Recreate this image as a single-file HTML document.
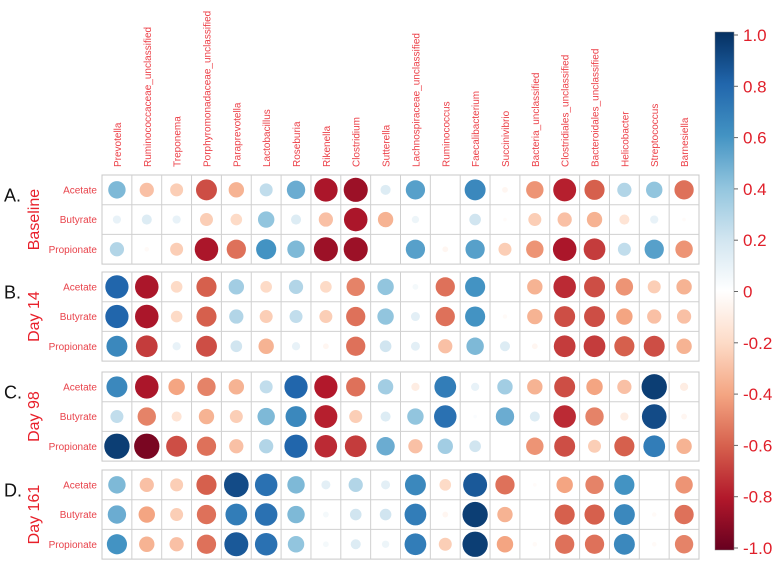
<!DOCTYPE html>
<html><head><meta charset="utf-8"><style>
body{margin:0;background:#fff;width:777px;height:564px;overflow:hidden;font-family:"Liberation Sans",sans-serif}
</style></head><body>
<svg id="chart" width="777" height="564" xmlns="http://www.w3.org/2000/svg">
<defs><linearGradient id="cb" x1="0" y1="0" x2="0" y2="1">
<stop offset="0" stop-color="#053061"/><stop offset="0.1" stop-color="#2166AC"/><stop offset="0.2" stop-color="#4393C3"/><stop offset="0.3" stop-color="#92C5DE"/><stop offset="0.4" stop-color="#D1E5F0"/><stop offset="0.5" stop-color="#FFFFFF"/><stop offset="0.6" stop-color="#FDDBC7"/><stop offset="0.7" stop-color="#F4A582"/><stop offset="0.8" stop-color="#D6604D"/><stop offset="0.9" stop-color="#B2182B"/><stop offset="1" stop-color="#67001F"/>
</linearGradient></defs>
</svg>
<script>
const genera=["Prevotella","Ruminococcaceae_unclassified","Treponema","Porphyromonadaceae_unclassified","Paraprevotella","Lactobacillus","Roseburia","Rikenella","Clostridium","Sutterella","Lachnospiraceae_unclassified","Ruminococcus","Faecalibacterium","Succinivibrio","Bacteria_unclassified","Clostridiales_unclassified","Bacteroidales_unclassified","Helicobacter","Streptococcus","Barnesiella"];
const acids=["Acetate","Butyrate","Propionate"];
const panelLetters=["A.","B.","C.","D."];
const panelTitles=["Baseline","Day 14","Day 98","Day 161"];
const baselineValues=[
[.45,-.3,-.25,-.65,-.35,.25,.5,-.82,-.86,.15,.55,0,.65,-.05,-.45,-.78,-.6,.3,.4,-.55],
[.1,.15,.1,-.25,-.2,.4,.15,-.3,-.82,-.35,.08,0,.2,-.02,-.25,-.3,-.35,-.15,.1,-.02],
[.3,-.03,-.25,-.82,-.55,.6,.45,-.86,-.86,0,.55,-.05,.55,-.25,-.45,-.82,-.7,.25,.55,-.45]];
const day14Values=[
[.8,-.82,-.2,-.6,.35,-.2,.3,-.2,-.5,.4,.05,-.55,.6,0,-.35,-.75,-.65,-.45,-.25,-.35],
[.8,-.82,-.2,-.6,.3,-.25,.25,-.25,-.55,.4,.12,-.55,.6,-.03,-.35,-.65,-.65,-.4,-.3,-.3],
[.65,-.7,.1,-.65,.2,-.35,.1,-.05,-.55,.2,.12,-.3,.45,.15,-.05,-.7,-.7,-.6,-.65,-.35]];
const day98Values=[
[.65,-.82,-.4,-.5,-.35,.25,.8,-.8,-.55,.35,-.1,.7,.1,.35,-.35,-.65,-.4,-.3,.95,-.1],
[.25,-.5,-.15,-.35,-.25,.45,.65,-.78,-.25,.15,.4,.75,.02,.5,.15,-.75,-.5,-.1,.9,-.05],
[.95,-.95,-.65,-.55,-.3,.3,.8,-.75,-.7,.5,-.3,.35,.2,0,-.45,-.65,-.25,-.6,.7,-.35]];
const day161Values=[
[.45,-.3,-.25,-.6,.9,.75,.45,.12,.3,.12,.65,-.2,.85,-.55,-.02,-.4,-.5,.6,0,-.45],
[.5,-.4,-.25,-.55,.7,.75,.45,.05,.2,.2,.7,-.05,.95,-.35,0,-.6,-.6,.65,-.03,-.55],
[.6,-.35,-.3,-.55,.85,.75,.4,.05,.15,.08,.7,-.25,.95,-.4,-.03,-.55,-.55,.65,-.03,-.5]];
const colorbarTicks=[1.0,0.8,0.6,0.4,0.2,0,-0.2,-0.4,-0.6,-0.8,-1.0];
const panels=[baselineValues,day14Values,day98Values,day161Values];

const NS="http://www.w3.org/2000/svg";
const svg=document.getElementById('chart');
function mk(t,a,p){const e=document.createElementNS(NS,t);for(const k in a)e.setAttribute(k,a[k]);(p||svg).appendChild(e);return e;}
const X0=102,CW=29.85,RH=29.7;
const panelTops=[175,272,372,470];
const xScale=i=>X0+CW*i;
const rScale=v=>13*Math.sqrt(Math.abs(v));
const pal=["#67001F","#B2182B","#D6604D","#F4A582","#FDDBC7","#FFFFFF","#D1E5F0","#92C5DE","#4393C3","#2166AC","#053061"];
function hex(h){return [1,3,5].map(i=>parseInt(h.substr(i,2),16));}
function color(v){const t=(v+1)/2*10;const i=Math.min(9,Math.floor(t));const f=t-i;const a=hex(pal[i]),b=hex(pal[i+1]);return 'rgb('+a.map((c,k)=>Math.round(c+(b[k]-c)*f)).join(',')+')';}

genera.forEach((g,i)=>{
  const x=xScale(i)+CW/2+4;
  const t=mk('text',{x:x,y:167,transform:`rotate(-90 ${x} 167)`,'font-size':'10','fill':'#ec4048'});
  t.textContent=g;
  
  
});

panels.forEach((rows,p)=>{
  const top=panelTops[p];
  const g=mk('g',{});
  
  
  mk('rect',{x:X0,y:top,width:CW*20,height:RH*3,fill:'#fff',stroke:'#c8c8c8','stroke-width':1},g);
  for(let i=1;i<20;i++) mk('line',{x1:xScale(i),x2:xScale(i),y1:top,y2:top+RH*3,stroke:'#d0d0d0','stroke-width':1},g);
  for(let j=1;j<3;j++) mk('line',{x1:X0,x2:X0+CW*20,y1:top+RH*j,y2:top+RH*j,stroke:'#d0d0d0','stroke-width':1},g);
  const L=mk('text',{x:4,y:top+RH*0.9,'font-size':'18','fill':'#111'});
  L.textContent=panelLetters[p];
  
  
  const cy=top+RH*1.5, tx=39;
  const T=mk('text',{x:tx,y:cy,transform:`rotate(-90 ${tx} ${cy})`,'text-anchor':'middle','font-size':'16','fill':'#e8202a'});
  T.textContent=panelTitles[p];
  
  
  rows.forEach((vals,r)=>{
    const y=top+RH*r+RH/2;
    const a=mk('text',{x:97,y:y+3.5,'text-anchor':'end','font-size':'10','fill':'#e8424a'});
    a.textContent=acids[r];
    
    
    vals.forEach((v,c)=>{
      if(Math.abs(v)<0.005)return;
      const ci=mk('circle',{cx:xScale(c)+CW/2,cy:y,r:rScale(v),fill:color(v)},g);
      
      
    });
  });
});

const cbTop=32,cbBot=550,cbX=715,cbW=19;
const cb=mk('rect',{x:cbX,y:cbTop,width:cbW,height:cbBot-cbTop,fill:'url(#cb)',stroke:'#888','stroke-width':0.5});


const cbY=v=>35+(1-v)/2*513;
colorbarTicks.forEach(v=>{
  const y=cbY(v);
  mk('line',{x1:cbX+cbW,x2:cbX+cbW+4,y1:y,y2:y,stroke:'#666','stroke-width':1});
  const t=mk('text',{x:743,y:y+6,'font-size':'17','fill':'#e01f2a'});
  t.textContent=(v===0?'0':v.toFixed(1));
  
  
});
</script>
</body></html>
